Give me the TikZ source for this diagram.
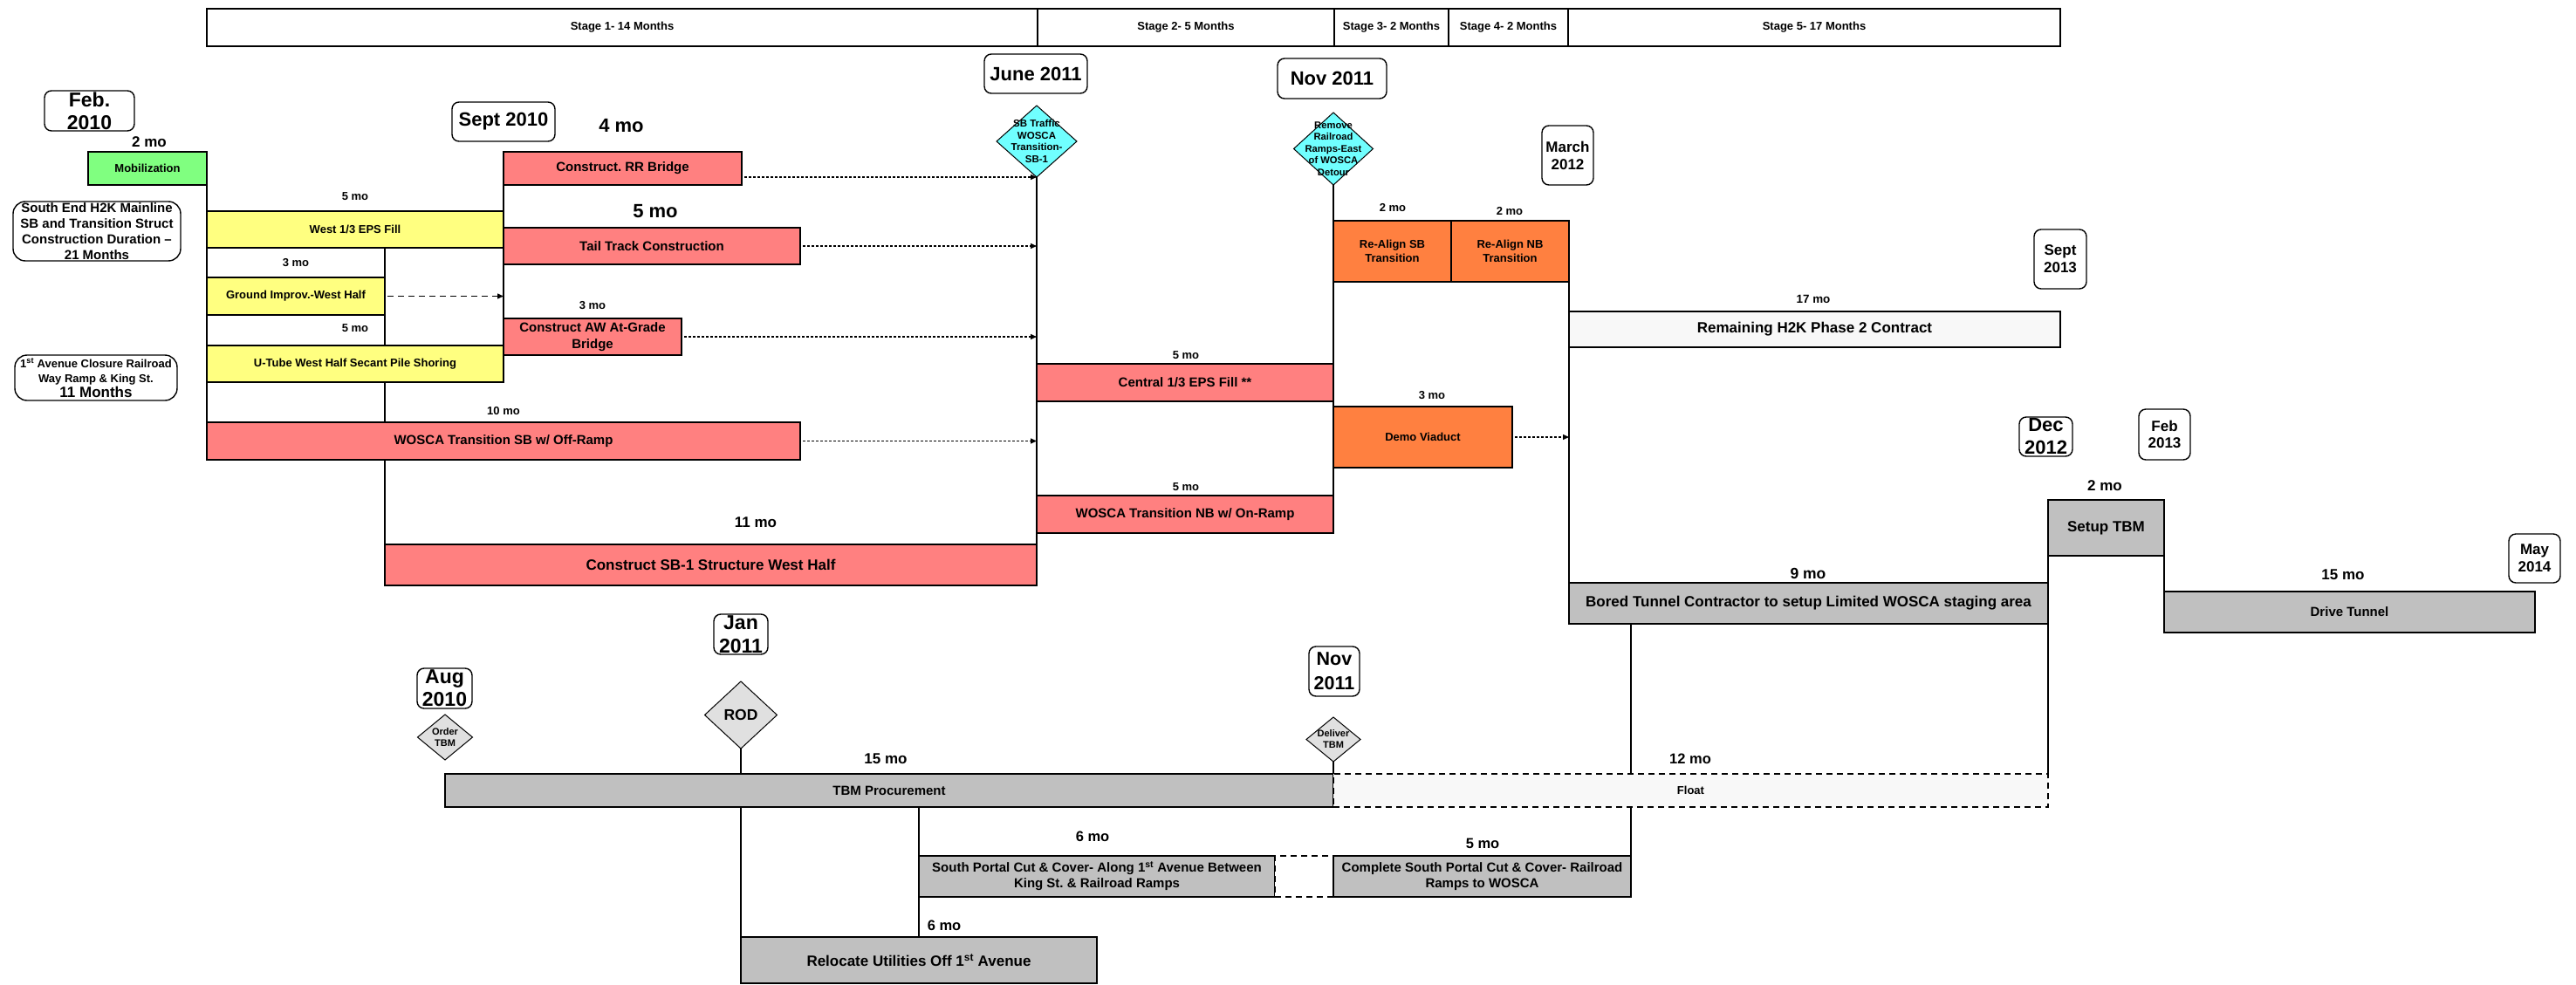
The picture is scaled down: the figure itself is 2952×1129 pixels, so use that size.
\documentclass[tikz,border=0pt]{standalone}
\usepackage{fontspec}
\setmainfont{Liberation Sans}
\usetikzlibrary{shapes.geometric,arrows.meta,calc}
\pgfdeclarelayer{bg}
\pgfsetlayers{bg,main}
\frenchspacing
\definecolor{cgreen}{HTML}{80FF80}
\definecolor{cyellow}{HTML}{FFFF80}
\definecolor{csalmon}{HTML}{FF8080}
\definecolor{corange}{HTML}{FF8040}
\definecolor{ccyan}{HTML}{70FFFF}
\definecolor{cgray}{HTML}{C0C0C0}
\definecolor{clgray}{HTML}{E0E0E0}
\definecolor{cfloat}{HTML}{F8F8F8}
\newcommand\fs[2]{\fontsize{#1}{#2}\selectfont\bfseries}
% style, name, x1, y1, x2, y2, font, text
\newcommand\tbox[8]{%
  \node[#1,minimum width={#5-#3},minimum height={#6-#4}] (#2) at ({(#3+#5)/2},{(#4+#6)/2}) {};
  \node[lab,font=#7] (#2-t) at (#2) {#8};}
% fill, name, cx, cy, w, h, font, text
\newcommand\dnode[8]{%
  \node[diam,fill=#1,minimum width=#5,minimum height=#6] (#2) at (#3,#4) {};
  \node[lab,font=#7] (#2-t) at (#2) {#8};}
\begin{document}
\begin{tikzpicture}[x=1pt,y=-1pt,
  box/.style={draw=black,line width=1.8pt,rectangle,inner sep=0pt,outer sep=0pt},
  datebox/.style={draw=black,line width=1.4pt,rectangle,rounded corners=8pt,fill=white,inner sep=0pt,outer sep=0pt},
  notebox/.style={draw=black,line width=1.4pt,rectangle,rounded corners=14pt,fill=white,inner sep=0pt,outer sep=0pt},
  diam/.style={draw=black,line width=1pt,diamond,inner sep=0pt,outer sep=0pt},
  lab/.style={inner sep=0pt,outer sep=0pt,align=center,text=black},
  conn/.style={line width=1.1pt,black},
  dotarrow/.style={line width=1.3pt,dash pattern=on 3pt off 2pt,shorten <=3pt,-{Triangle[length=7pt,width=6pt]}},
  dasharrow/.style={line width=1.3pt,dash pattern=on 7pt off 5pt,shorten <=3pt,-{Triangle[length=7pt,width=6pt]}},
  fdash/.style={dash pattern=on 7pt off 5pt}]
\useasboundingbox (0,0) rectangle (2952,1129);

% stage bar
\tbox{box,fill=white}{st1}{237}{10}{1189}{53}{\fs{13}{16}}{Stage 1- 14 Months}
\tbox{box,fill=white}{st2}{1189}{10}{1529}{53}{\fs{13}{16}}{Stage 2- 5 Months}
\tbox{box,fill=white}{st3}{1529}{10}{1660}{53}{\fs{13}{16}}{Stage 3- 2 Months}
\tbox{box,fill=white}{st4}{1660}{10}{1797}{53}{\fs{13}{16}}{Stage 4- 2 Months}
\tbox{box,fill=white}{st5}{1797}{10}{2361}{53}{\fs{13}{16}}{Stage 5- 17 Months}

% date boxes and notes
\tbox{datebox}{feb10}{51}{104}{154}{150}{\fs{23}{26}}{Feb.\\2010}
\tbox{datebox}{sep10}{518}{117}{636}{162}{\fs{22}{26}}{Sept 2010}
\tbox{datebox}{jun11}{1128}{62}{1246}{107}{\fs{22}{26}}{June 2011}
\tbox{datebox}{nov11}{1464}{67}{1589}{113}{\fs{22}{26}}{Nov 2011}
\tbox{datebox}{mar12}{1767}{144}{1826}{212}{\fs{17}{20}}{March\\2012}
\tbox{datebox}{sep13}{2331}{263}{2391}{331}{\fs{17}{20}}{Sept\\2013}
\tbox{datebox}{dec12}{2314}{478}{2375}{523}{\fs{22}{26}}{Dec\\2012}
\tbox{datebox}{feb13}{2451}{469}{2510}{527}{\fs{17}{19}}{Feb\\2013}
\tbox{datebox}{may14}{2875}{612}{2934}{668}{\fs{17}{20}}{May\\2014}
\tbox{datebox}{jan11}{818}{704}{880}{750}{\fs{23}{27}}{Jan\\2011}
\tbox{datebox}{aug10}{478}{766}{541}{812}{\fs{23}{26}}{Aug\\2010}
\tbox{datebox}{nov11b}{1500}{741}{1558}{798}{\fs{21.5}{28}}{Nov\\2011}
\tbox{notebox}{note1}{15}{231}{207}{299}{\fs{15}{18}}{South End H2K Mainline\\SB and Transition Struct\\Construction Duration --\\21 Months}
\tbox{notebox}{note2}{17}{407}{203}{459}{\fs{13}{17}}{1\textsuperscript{st} Avenue Closure Railroad\\Way Ramp \& King St.\\{\fs{17}{17}11 Months}}

% tasks
\tbox{box,fill=cgreen}{mob}{101}{174}{237}{212}{\fs{13}{16}}{Mobilization}
\tbox{box,fill=csalmon}{rr}{577}{174}{850}{212}{\fs{15}{18}}{Construct. RR Bridge}
\tbox{box,fill=cyellow}{weps}{237}{242}{577}{284}{\fs{13}{16}}{West 1/3 EPS Fill}
\tbox{box,fill=csalmon}{tail}{577}{261}{917}{303}{\fs{15}{18}}{Tail Track Construction}
\tbox{box,fill=cyellow}{gi}{237}{318}{441}{361}{\fs{13}{16}}{Ground Improv.-West Half}
\tbox{box,fill=csalmon}{aw}{577}{365}{781}{407}{\fs{15}{19}}{Construct AW At-Grade\\Bridge}
\tbox{box,fill=cyellow}{ut}{237}{396}{577}{438}{\fs{13}{16}}{U-Tube West Half Secant Pile Shoring}
\tbox{box,fill=csalmon}{wsb}{237}{484}{917}{527}{\fs{15}{18}}{WOSCA Transition SB w/ Off-Ramp}
\tbox{box,fill=csalmon}{sb1}{441}{624}{1188}{671}{\fs{17}{20}}{Construct SB-1 Structure West Half}
\tbox{box,fill=csalmon}{ceps}{1188}{417}{1528}{460}{\fs{15}{18}}{Central 1/3 EPS Fill **}
\tbox{box,fill=csalmon}{wnb}{1188}{568}{1528}{611}{\fs{15}{18}}{WOSCA Transition NB w/ On-Ramp}
\tbox{box,fill=corange}{rasb}{1528}{253}{1663}{323}{\fs{13}{16}}{Re-Align SB\\Transition}
\tbox{box,fill=corange}{ranb}{1663}{253}{1798}{323}{\fs{13}{16}}{Re-Align NB\\Transition}
\tbox{box,fill=corange}{demo}{1528}{466}{1733}{536}{\fs{13}{16}}{Demo Viaduct}
\tbox{box,fill=cfloat}{rem}{1798}{357}{2361}{398}{\fs{17}{20}}{Remaining H2K Phase 2 Contract}
\tbox{box,fill=cgray}{bored}{1798}{668}{2347}{715}{\fs{17}{20}}{Bored Tunnel Contractor to setup Limited WOSCA staging area}
\tbox{box,fill=cgray}{setup}{2347}{573}{2480}{637}{\fs{17}{20}}{Setup TBM}
\tbox{box,fill=cgray}{drive}{2480}{678}{2905}{725}{\fs{15}{18}}{Drive Tunnel}
\tbox{box,fill=cgray}{tbm}{510}{887}{1528}{925}{\fs{15}{18}}{TBM Procurement}
\tbox{box,fill=cfloat,fdash}{float}{1528}{887}{2347}{925}{\fs{13}{16}}{Float}
\tbox{box,fill=cgray}{sp}{1053}{981}{1461}{1028}{\fs{15}{18}}{South Portal Cut \& Cover- Along 1\textsuperscript{st} Avenue Between\\King St. \& Railroad Ramps}
\tbox{box,fill=white,fdash}{gap}{1461}{981}{1528}{1028}{\fs{13}{16}}{}
\tbox{box,fill=cgray}{csp}{1528}{981}{1869}{1028}{\fs{15}{18}}{Complete South Portal Cut \& Cover- Railroad\\Ramps to WOSCA}
\tbox{box,fill=cgray}{rel}{849}{1074}{1257}{1127}{\fs{17}{20}}{Relocate Utilities Off 1\textsuperscript{st} Avenue}

% milestones
\dnode{ccyan}{d1}{1188}{162}{92}{82}{\fs{11.5}{13.7}}{SB Traffic\\WOSCA\\Transition-\\SB-1}
\dnode{ccyan}{d2}{1528}{170.5}{91}{83}{\fs{11.2}{13.5}}{Remove\\Railroad\\Ramps-East\\of WOSCA\\Detour}
\dnode{clgray}{order}{510}{845}{63}{52}{\fs{11}{13}}{Order\\TBM}
\dnode{clgray}{rod}{849}{819.5}{83}{77}{\fs{17.5}{20}}{ROD}
\dnode{clgray}{deliver}{1528}{847.5}{62}{51}{\fs{11}{13}}{Deliver\\TBM}

% duration labels
\node[lab,font=\fs{17}{20}] (l1) at (171,163) {2 mo};
\node[lab,font=\fs{22}{26}] (l2) at (712,144) {4 mo};
\node[lab,font=\fs{13}{16}] (l3) at (407,225) {5 mo};
\node[lab,font=\fs{22}{26}] (l4) at (751,242) {5 mo};
\node[lab,font=\fs{13}{16}] (l5) at (339,301) {3 mo};
\node[lab,font=\fs{13}{16}] (l6) at (679,350) {3 mo};
\node[lab,font=\fs{13}{16}] (l7) at (407,376) {5 mo};
\node[lab,font=\fs{13}{16}] (l8) at (577,471) {10 mo};
\node[lab,font=\fs{17}{20}] (l9) at (866,599) {11 mo};
\node[lab,font=\fs{13}{16}] (l10) at (1596,238) {2 mo};
\node[lab,font=\fs{13}{16}] (l11) at (1730,242) {2 mo};
\node[lab,font=\fs{13.4}{16}] (l12) at (2078,343) {17 mo};
\node[lab,font=\fs{13}{16}] (l13) at (1359,407) {5 mo};
\node[lab,font=\fs{13}{16}] (l14) at (1641,453) {3 mo};
\node[lab,font=\fs{13}{16}] (l15) at (1359,558) {5 mo};
\node[lab,font=\fs{17.5}{20}] (l16) at (2072,657) {9 mo};
\node[lab,font=\fs{17}{20}] (l17) at (2412,557) {2 mo};
\node[lab,font=\fs{17}{20}] (l18) at (2685,659) {15 mo};
\node[lab,font=\fs{17}{20}] (l19) at (1015,870) {15 mo};
\node[lab,font=\fs{16.5}{20}] (l20) at (1937,870) {12 mo};
\node[lab,font=\fs{16.5}{20}] (l21) at (1252,959) {6 mo};
\node[lab,font=\fs{16.5}{20}] (l22) at (1699,967) {5 mo};
\node[lab,font=\fs{16.5}{20}] (l23) at (1082,1061) {6 mo};

% dependency arrows
\draw[dotarrow] (rr.east |- d1.south) -- (d1.south);
\draw[dotarrow] (tail.east) -- (tail.east -| d1.south);
\draw[dotarrow] (aw.east) -- (aw.east -| d1.south);
\draw[dotarrow] (wsb.east) -- (wsb.east -| d1.south);
\draw[dasharrow] (gi.east) -- (gi.east -| rr.west);
\draw[dotarrow] (demo.east) -- (demo.east -| bored.west);

% precedence lines
\begin{pgfonlayer}{bg}
\draw[conn] (mob.south east) -- (wsb.north west);
\draw[conn] (gi.east |- weps.south) -- (sb1.north west);
\draw[conn] (rr.south west) -- (ut.north east);
\draw[conn] (d1.south) -- (sb1.north east);
\draw[conn] (d2.south) -- (wnb.north east);
\draw[conn] (ranb.south east) -- (bored.north west);
\draw[conn] (csp.north east |- bored.south) -- (csp.north east);
\draw[conn] (setup.south west) -- (float.north east);
\draw[conn] (setup.south east) -- (drive.north west);
\draw[conn] (rod.south) -- (rod.south |- rel.north);
\draw[conn] (sp.west |- tbm.south) -- (sp.west |- rel.north);
\draw[conn] (deliver.south) -- (float.north west);
\end{pgfonlayer}
\end{tikzpicture}
\end{document}
